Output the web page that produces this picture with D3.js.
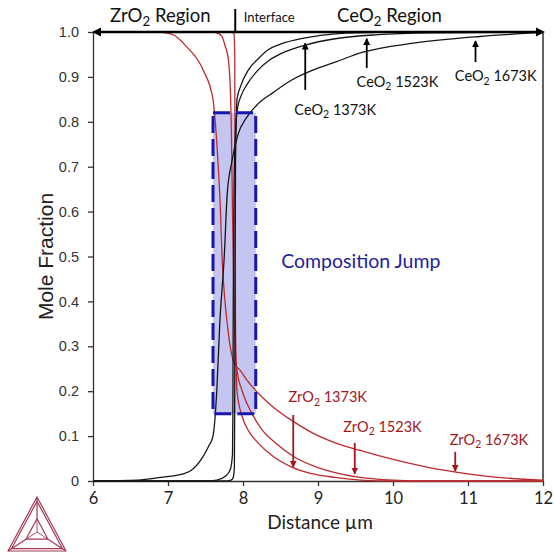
<!DOCTYPE html>
<html><head><meta charset="utf-8">
<script src="https://cdn.jsdelivr.net/npm/d3@7"></script>
<style>body{margin:0;background:#fff}svg{display:block}</style>
</head><body>
<svg id="c" width="554" height="554"></svg>
<script>
// ---------- data ----------
const xTicks = [6, 7, 8, 9, 10, 11, 12];
const xTickLabels = ["6", "7", "8", "9", "10", "11", "12"];
const yTicks = [0, 0.1, 0.2, 0.3, 0.4, 0.5, 0.6, 0.7, 0.8, 0.9, 1.0];
const yTickLabels = ["0", "0.1", "0.2", "0.3", "0.4", "0.5", "0.6", "0.7", "0.8", "0.9", "1.0"];

const ceo2_1373_x = [6, 7.75, 7.84, 7.87, 7.885, 7.89, 7.895, 7.9, 7.91, 7.92, 7.97, 8.07, 8.2, 8.33, 8.5, 8.83, 9.23, 9.8, 12];
const ceo2_1373_y = [0, 0, 0.002, 0.008, 0.03, 0.2, 0.5, 0.7, 0.8, 0.85, 0.88, 0.915, 0.94, 0.96, 0.973, 0.987, 0.996, 0.999, 1];
const ceo2_1523_x = [6, 7.5, 7.65, 7.76, 7.83, 7.86, 7.865, 7.87, 7.88, 7.9, 7.93, 7.98, 8.06, 8.2, 8.35, 8.52, 8.83, 9.23, 9.8, 10.5, 12];
const ceo2_1523_y = [0, 0, 0.002, 0.01, 0.025, 0.06, 0.15, 0.4, 0.65, 0.78, 0.833, 0.86, 0.885, 0.915, 0.937, 0.953, 0.971, 0.985, 0.994, 0.998, 1];
const ceo2_1673_x = [6, 6.6, 6.9, 7.2, 7.31, 7.45, 7.55, 7.6, 7.65, 7.69, 7.75, 7.79, 7.85, 7.93, 8.05, 8.2, 8.4, 8.65, 8.93, 9.23, 9.6, 10.27, 11.16, 12];
const ceo2_1673_y = [0, 0.002, 0.008, 0.016, 0.024, 0.05, 0.08, 0.1, 0.2, 0.35, 0.5, 0.64, 0.71, 0.77, 0.81, 0.84, 0.865, 0.893, 0.915, 0.933, 0.955, 0.975, 0.99, 0.999];

const zro2_1373_x = [6, 7.85, 7.88, 7.89, 7.895, 7.9, 7.91, 7.92, 7.99, 8.08, 8.2, 8.4, 8.65, 8.9, 9.23, 9.56, 10, 12];
const zro2_1373_y = [1, 1, 0.995, 0.95, 0.6, 0.35, 0.25, 0.2, 0.143, 0.11, 0.085, 0.055, 0.031, 0.017, 0.008, 0.002, 0, 0];
const zro2_1523_x = [6, 7.6, 7.67, 7.72, 7.76, 7.8, 7.83, 7.845, 7.86, 7.88, 7.9, 7.92, 7.99, 8.12, 8.25, 8.43, 8.69, 9.0, 9.2, 9.56, 10, 10.5, 12];
const zro2_1523_y = [1, 1, 0.997, 0.99, 0.97, 0.944, 0.877, 0.78, 0.6, 0.4, 0.28, 0.247, 0.2, 0.15, 0.115, 0.085, 0.053, 0.03, 0.02, 0.008, 0.002, 0, 0];
const zro2_1673_x = [6, 6.85, 7.05, 7.25, 7.47, 7.6, 7.63, 7.67, 7.7, 7.72, 7.75, 7.79, 7.84, 7.89, 7.96, 8.05, 8.2, 8.4, 8.65, 8.95, 9.23, 9.56, 10.0, 10.45, 11.0, 11.33, 12];
const zro2_1673_y = [1, 1, 0.995, 0.967, 0.915, 0.85, 0.8, 0.7, 0.6, 0.5, 0.42, 0.35, 0.29, 0.26, 0.247, 0.225, 0.196, 0.165, 0.135, 0.105, 0.085, 0.068, 0.048, 0.031, 0.016, 0.009, 0.002];

// annotation values (data units)
const ceLabels = ["1373K", "1523K", "1673K"];
const ceArrowX = [8.83, 9.65, 11.1];
const ceArrowFrom = [0.871, 0.92, 0.933];
const ceArrowTo = [0.975, 0.985, 0.98];
const ceTextX = [9.23, 10.06, 11.37];
const ceTextY = [0.815, 0.878, 0.89];

const zrLabels = ["1373K", "1523K", "1673K"];
const zrArrowX = [8.67, 9.49, 10.83];
const zrArrowFrom = [0.147, 0.085, 0.065];
const zrArrowTo = [0.031, 0.016, 0.022];
const zrTextX = [9.13, 9.86, 11.28];
const zrTextY = [0.175, 0.11, 0.08];

const jumpBox = {x0: 7.6, x1: 8.17, y0: 0.15, y1: 0.82};
const jumpText = "Composition Jump";
const jumpTextPos = [9.57, 0.475];
const interfaceX = 7.89;

// ---------- drawing ----------
const svg = d3.select("#c");
const x = d3.scaleLinear([6, 12], [93, 543]);
const y = d3.scaleLinear([0, 1], [481, 32]);

const BLACK = "#161616", RED = "#bd2a2e", DRED = "#a3161c", BLUE = "#22229a";
const sans = "'Liberation Sans', Arial, sans-serif";
const cal = "Lato, 'Open Sans', sans-serif";

// composition jump box fill
svg.append("rect")
  .attr("x", x(jumpBox.x0)).attr("y", y(jumpBox.y1))
  .attr("width", x(jumpBox.x1) - x(jumpBox.x0)).attr("height", y(jumpBox.y0) - y(jumpBox.y1))
  .attr("fill", "#c4c5f1");

// axes
const gx = svg.append("g").attr("transform", `translate(0,${y(0)})`)
  .call(d3.axisBottom(x).tickValues(xTicks).tickFormat((d, i) => xTickLabels[i]).tickSize(5).tickSizeOuter(0).tickPadding(6));
gx.selectAll("text").attr("font-family", cal).attr("font-size", 16.5).attr("fill", "#222");
gx.selectAll("line,path").attr("stroke", "#333").attr("stroke-width", 1.3);

const gy = svg.append("g").attr("transform", `translate(${x(6)},0)`)
  .call(d3.axisLeft(y).tickValues(yTicks).tickFormat((d, i) => yTickLabels[i]).tickSize(5).tickSizeOuter(0).tickPadding(9));
gy.selectAll("text").attr("font-family", sans).attr("font-size", 14.5).attr("fill", "#333");
gy.selectAll("line,path").attr("stroke", "#333").attr("stroke-width", 1.3);

// right frame
svg.append("line").attr("x1", x(12)).attr("x2", x(12)).attr("y1", y(0)).attr("y2", y(1))
  .attr("stroke", "#222").attr("stroke-width", 1.4);

// curves
const line = d3.line().x(d => x(d[0])).y(d => y(d[1])).curve(d3.curveMonotoneX);
const zip = (a, b) => a.map((v, i) => [v, b[i]]);
[[zro2_1373_x, zro2_1373_y], [zro2_1523_x, zro2_1523_y], [zro2_1673_x, zro2_1673_y]].forEach(([a, b]) => {
  svg.append("path").attr("d", line(zip(a, b))).attr("fill", "none").attr("stroke", RED).attr("stroke-width", 1.3);
});
[[ceo2_1373_x, ceo2_1373_y], [ceo2_1523_x, ceo2_1523_y], [ceo2_1673_x, ceo2_1673_y]].forEach(([a, b]) => {
  svg.append("path").attr("d", line(zip(a, b))).attr("fill", "none").attr("stroke", BLACK).attr("stroke-width", 1.3);
});

// box outline (dashed)
svg.append("rect")
  .attr("x", x(jumpBox.x0)).attr("y", y(jumpBox.y1))
  .attr("width", x(jumpBox.x1) - x(jumpBox.x0)).attr("height", y(jumpBox.y0) - y(jumpBox.y1))
  .attr("fill", "none").attr("stroke", "#1717b0").attr("stroke-width", 3).attr("stroke-dasharray", "17,6");

// top double arrow
const ty = y(1);
svg.append("line").attr("x1", x(6) + 6).attr("x2", x(12) - 6).attr("y1", ty).attr("y2", ty)
  .attr("stroke", "#000").attr("stroke-width", 2.6);
svg.append("path").attr("d", `M${x(6) - 1},${ty} l9,-4.5 l0,9 z`).attr("fill", "#000");
svg.append("path").attr("d", `M${x(12) + 2},${ty} l-9,-4.5 l0,9 z`).attr("fill", "#000");
// interface tick
svg.append("line").attr("x1", x(interfaceX) + 0.5).attr("x2", x(interfaceX) + 0.5).attr("y1", ty - 23).attr("y2", ty)
  .attr("stroke", "#000").attr("stroke-width", 2);

function subText(g, pre, sub, post, size) {
  g.append("tspan").text(pre);
  g.append("tspan").text(sub).attr("font-size", size * 0.72).attr("dy", size * 0.22);
  g.append("tspan").text(post).attr("dy", -size * 0.22);
}
const t1 = svg.append("text").attr("x", x(6) + 17).attr("y", ty - 10).attr("font-family", cal).attr("font-size", 18.5).attr("fill", "#111");
subText(t1, "ZrO", "2", " Region", 18.5);
svg.append("text").attr("x", x(interfaceX) + 9).attr("y", ty - 10).attr("font-family", cal).attr("font-size", 13).attr("fill", "#111").text("Interface");
const t2 = svg.append("text").attr("x", 337).attr("y", ty - 10).attr("font-family", cal).attr("font-size", 18.5).attr("fill", "#111");
subText(t2, "CeO", "2", " Region", 18.5);

// arrow markers
const defs = svg.append("defs");
[["ab", "#000"], ["ar", DRED]].forEach(([id, col]) => {
  defs.append("marker").attr("id", id).attr("viewBox", "0 0 10 10").attr("refX", 9).attr("refY", 5)
    .attr("markerWidth", 7).attr("markerHeight", 9).attr("markerUnits", "userSpaceOnUse").attr("orient", "auto")
    .append("path").attr("d", "M0,0 L10,5 L0,10 z").attr("fill", col);
});

ceLabels.forEach((lab, i) => {
  svg.append("line").attr("x1", x(ceArrowX[i])).attr("x2", x(ceArrowX[i]))
    .attr("y1", y(ceArrowFrom[i])).attr("y2", y(ceArrowTo[i]))
    .attr("stroke", "#000").attr("stroke-width", 1.8).attr("marker-end", "url(#ab)");
  const t = svg.append("text").attr("x", x(ceTextX[i])).attr("y", y(ceTextY[i])).attr("text-anchor", "middle")
    .attr("font-family", cal).attr("font-size", 14.5).attr("fill", "#111");
  subText(t, "CeO", "2", " " + lab, 14.5);
});
zrLabels.forEach((lab, i) => {
  svg.append("line").attr("x1", x(zrArrowX[i])).attr("x2", x(zrArrowX[i]))
    .attr("y1", y(zrArrowFrom[i])).attr("y2", y(zrArrowTo[i]))
    .attr("stroke", DRED).attr("stroke-width", 1.8).attr("marker-end", "url(#ar)");
  const t = svg.append("text").attr("x", x(zrTextX[i])).attr("y", y(zrTextY[i])).attr("text-anchor", "middle")
    .attr("font-family", cal).attr("font-size", 14.5).attr("fill", DRED);
  subText(t, "ZrO", "2", " " + lab, 14.5);
});

svg.append("text").attr("x", x(jumpTextPos[0])).attr("y", y(jumpTextPos[1])).attr("text-anchor", "middle")
  .attr("font-family", cal).attr("font-size", 19.5).attr("fill", BLUE).text(jumpText);

// axis titles
svg.append("text").attr("transform", `translate(53,${(y(0) + y(1)) / 2}) rotate(-90)`).attr("text-anchor", "middle")
  .attr("font-family", sans).attr("font-size", 21).attr("fill", "#222").text("Mole Fraction");
svg.append("text").attr("x", (x(6) + x(12)) / 2 + 2).attr("y", 529).attr("text-anchor", "middle")
  .attr("font-family", cal).attr("font-size", 19).attr("fill", "#222").text("Distance \u00b5m");

// logo (decorative)
const lg = svg.append("g").attr("fill", "none").attr("stroke", "#a23a55").attr("stroke-width", 1.2).attr("stroke-linejoin", "round");
const A = [37, 497], B = [8, 551], C = [66, 551];
const ctr = [37, 532];
const inset = (p, k) => [p[0] + (ctr[0] - p[0]) * k, p[1] + (ctr[1] - p[1]) * k];
const tri = (k) => { const a = inset(A, k), b = inset(B, k), c = inset(C, k); return `M${a}L${b}L${c}Z`; };
lg.append("path").attr("d", tri(0));
lg.append("path").attr("d", tri(0.12));
lg.append("path").attr("d", tri(0.62));
[A, B, C].forEach(p => { const q = inset(p, 0.62); lg.append("line").attr("x1", p[0]).attr("y1", p[1]).attr("x2", q[0]).attr("y2", q[1]); });
[A, B, C].forEach(p => { const q = inset(p, 0.62); lg.append("line").attr("x1", ctr[0]).attr("y1", ctr[1]).attr("x2", q[0]).attr("y2", q[1]).attr("stroke-width", 0.9); });
</script>
</body></html>
